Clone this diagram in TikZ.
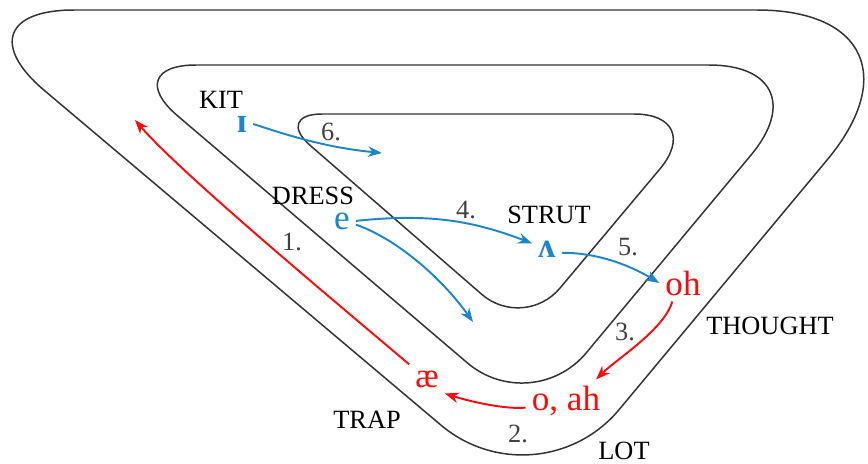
\documentclass[tikz,border=0pt]{standalone}
\usepackage{fontspec}
\setmainfont{Liberation Serif}
\usetikzlibrary{arrows.meta,calc}
\definecolor{vowelblue}{RGB}{30,134,200}
\definecolor{vowelred}{RGB}{250,12,12}
\tikzset{
	>={Stealth[length=8pt,width=6pt]},
	track/.style={draw=black!80, line width=0.85pt},
	word/.style={
		font=\fontsize{15}{17}\selectfont,
		anchor=base,
		inner sep=1pt},
	stepnum/.style={word, text=black!75},
	vowelb/.style={
		font=\fontsize{20}{22}\selectfont,
		anchor=base,
		text=vowelblue,
		inner sep=1.5pt, outer sep=2pt},
	vowelr/.style={vowelb, text=vowelred},
	shiftb/.style={draw=vowelblue, line width=1.1pt, ->},
	shiftr/.style={draw=vowelred, line width=1.1pt, ->},
}

\begin{document}
\begin{tikzpicture}[x=0.02cm, y=-0.02cm]
\useasboundingbox (0,0) rectangle (868,463);

% the three loops
\draw[track] (300,10) [rounded corners=3.9cm] -- (952,10) [rounded corners=2.54cm]
	-- (538,507) [rounded corners=2.5cm] -- (-51,10) -- cycle;
\draw[track] (300,65) [rounded corners=2.34cm] -- (826,65) [rounded corners=1.7cm]
	-- (532,418) [rounded corners=1.56cm] -- (118,65) -- cycle;
\draw[track] (400,114) [rounded corners=1.44cm] -- (706,114) [rounded corners=1.12cm]
	-- (524,331) [rounded corners=0.96cm] -- (274,114) -- cycle;

% word classes
\node[word] (kit) at (221,108) {KIT};
\node[word] (dress) at (313,204) {DRESS};
\node[word] (strut) at (549,223) {STRUT};
\node[word] (thought) at (770,334) {THOUGHT};
\node[word] (trap) at (367,428) {TRAP};
\node[word] (lot) at (624,459) {LOT};

% steps
\node[stepnum] (s1) at (292,250) {1.};
\node[stepnum] (s2) at (518,442) {2.};
\node[stepnum] (s3) at (625,340) {3.};
\node[stepnum] (s4) at (466,218) {4.};
\node[stepnum] (s5) at (628,255) {5.};
\node[stepnum] (s6) at (331,140) {6.};

% vowels
\node[vowelb, font=\fontsize{20}{22}\selectfont\bfseries] (kitv) at (242,132) {ɪ};
\node[vowelb] (dressv) at (342,229) {e};
\node[vowelb, font=\fontsize{20}{22}\selectfont\bfseries] (strutv) at (547,257) {ʌ};
\node[vowelr] (thoughtv) at (683,295) {oh};
\node[vowelr] (lotv) at (566,410) {o, ah};
\node[vowelr] (trapv) at (427,387) {æ};

\coordinate (kitend) at (382,153);
\coordinate (dressend) at (473,322);
\coordinate (trapend) at (135,120);

% shifts
\draw[shiftr] (trapv.north west) .. controls +(-90,-76) and +(45,52) .. (trapend);
\draw[shiftr] (lotv.190) .. controls +(-20,2) and +(25,8) .. (trapv.south east);
\draw[shiftr] (thoughtv.-120) .. controls +(-8,28) and +(20,-20) .. (lotv.35);
\draw[shiftb] (dressv.east) .. controls +(75,-8) and +(-58,-22) .. (strutv.160);
\draw[shiftb] (strutv.-15) .. controls +(40,0) and +(-25,-15) .. (thoughtv.west);
\draw[shiftb] (kitv.east) .. controls +(45,15) and +(-50,-5) .. (kitend);
\draw[shiftb] (dressv.-15) .. controls +(40,14) and +(-32,-45) .. (dressend);

\end{tikzpicture}
\end{document}
